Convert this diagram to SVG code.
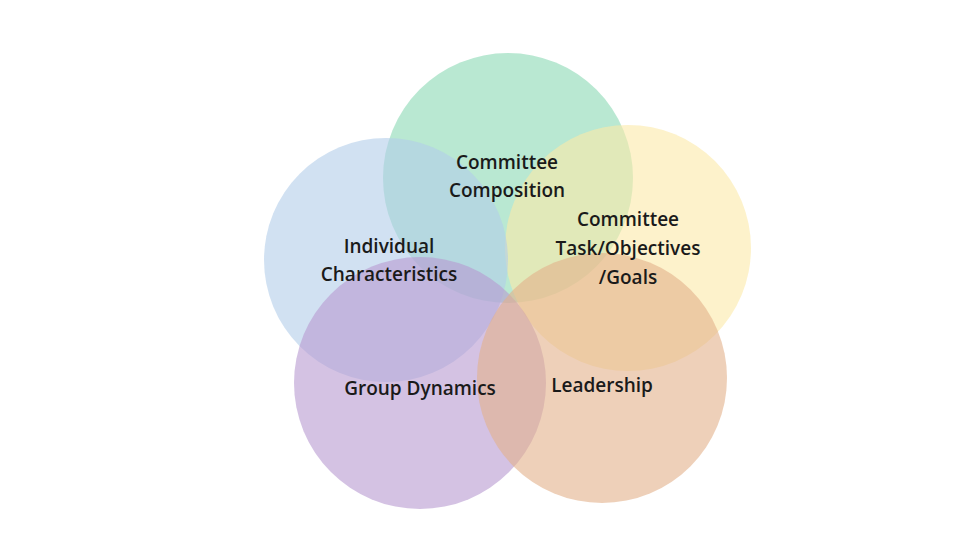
<svg xmlns="http://www.w3.org/2000/svg" width="960" height="540" viewBox="0 0 960 540">
<style>
.c{opacity:0.6}
text{font-family:"Open Sans","Liberation Sans",sans-serif;font-size:19px;font-weight:600;fill:#1a1a1a;text-anchor:middle}
</style>
<rect width="960" height="540" fill="#fff"/>
<g id="composition"><circle class="c" cx="508" cy="178" r="125" fill="#8ad8b4"/></g>
<g id="task"><circle class="c" cx="628" cy="248" r="123" fill="#fce9a8"/></g>
<g id="individual"><circle class="c" cx="386" cy="260" r="122" fill="#b3cde9"/></g>
<g id="group"><circle class="c" cx="420" cy="383" r="126" fill="#b89ad0"/></g>
<g id="leadership"><circle class="c" cx="602" cy="378" r="125" fill="#e2b08a"/></g>
<g id="labels">
<text x="507" y="169">Committee</text>
<text x="507" y="197">Composition</text>
<text x="628" y="226">Committee</text>
<text x="628" y="255">Task/Objectives</text>
<text x="628" y="284">/Goals</text>
<text x="389" y="253">Individual</text>
<text x="389" y="281">Characteristics</text>
<text x="420" y="395">Group Dynamics</text>
<text x="602" y="392">Leadership</text>
</g>
<g id="connectors"/>
</svg>
